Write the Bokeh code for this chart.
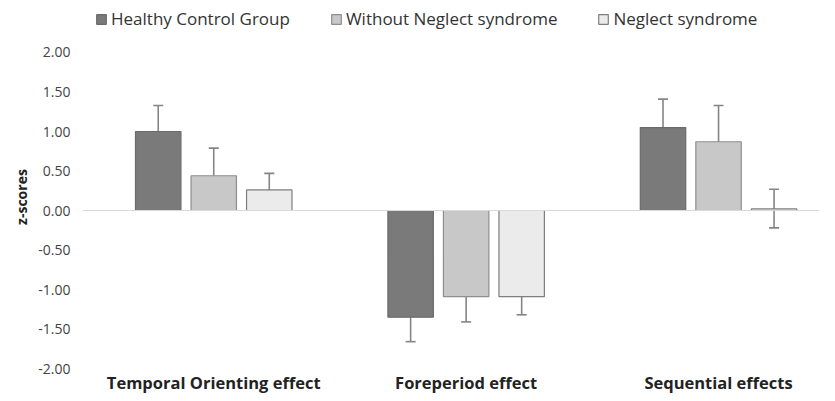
from bokeh.plotting import figure
from bokeh.models import ColumnDataSource, Whisker, TeeHead, Span, FixedTicker, PrintfTickFormatter, Legend, LegendItem
from bokeh.core.properties import value
from bokeh.embed import file_html
from bokeh.resources import INLINE

categories = ["Temporal Orienting effect", "Foreperiod effect", "Sequential effects"]
series_names = ["Healthy Control Group", "Without Neglect syndrome", "Neglect syndrome"]
healthy = [1.00, -1.35, 1.05]
healthy_lo = [0.66, -1.66, 0.70]
healthy_hi = [1.33, -1.03, 1.41]
without = [0.44, -1.09, 0.87]
without_lo = [0.08, -1.41, 0.40]
without_hi = [0.79, -0.76, 1.33]
neglect = [0.26, -1.09, 0.02]
neglect_lo = [0.06, -1.32, -0.22]
neglect_hi = [0.47, -0.85, 0.27]
y_ticks = [-2.0, -1.5, -1.0, -0.5, 0.0, 0.5, 1.0, 1.5, 2.0]

FONT = "Open Sans"
fills = ["#7a7a7a", "#c8c8c8", "#ebebeb"]
lines = ["#6a6a6a", "#8e8e8e", "#7e7e7e"]
offsets = [-0.22, 0.0, 0.22]
bar_w = 0.18
y_min = y_ticks[0]

p = figure(width=819, height=393, output_backend="svg", toolbar_location=None,
           x_range=(-0.52, 2.40), y_range=(-2.316, 2.658),
           min_border_left=82, min_border_right=0, min_border_top=0, min_border_bottom=0)
p.outline_line_color = None
p.xgrid.grid_line_color = None
p.ygrid.grid_line_color = None
p.xaxis.visible = False

p.add_layout(Span(location=0, dimension="width", line_color="#d9d9d9", line_width=1.2))

series = [(healthy, healthy_lo, healthy_hi), (without, without_lo, without_hi), (neglect, neglect_lo, neglect_hi)]
renderers = []
for i, (vals, lo, hi) in enumerate(series):
    xs = [k + offsets[i] for k in range(len(categories))]
    src = ColumnDataSource(dict(x=xs, top=vals, lo=lo, hi=hi))
    r = p.vbar(x="x", top="top", bottom=0, width=bar_w, source=src,
               fill_color=fills[i], line_color=lines[i], line_width=1.2)
    renderers.append(r)
    w = Whisker(base="x", lower="lo", upper="hi", source=src, dimension="height",
                line_color="#858585", line_width=1.6,
                upper_head=TeeHead(size=10, line_color="#858585", line_width=1.6),
                lower_head=TeeHead(size=10, line_color="#858585", line_width=1.6))
    p.add_layout(w)

# category labels
cat_src = ColumnDataSource(dict(x=list(range(len(categories))), y=[y_min] * len(categories), text=categories))
p.text(x="x", y="y", text="text", source=cat_src, text_align="center", text_baseline="middle",
       y_offset=14, text_font=value(FONT), text_font_style="bold", text_font_size="16.5px",
       text_color="#222222")

# y axis
p.yaxis.ticker = FixedTicker(ticks=y_ticks)
p.yaxis.formatter = PrintfTickFormatter(format="%.2f")
p.yaxis.axis_line_color = None
p.yaxis.major_tick_line_color = None
p.yaxis.minor_tick_line_color = None
p.yaxis.major_tick_out = 0
p.yaxis.major_tick_in = 0
p.yaxis.minor_tick_out = 0
p.yaxis.major_label_standoff = 12
p.yaxis.major_label_text_font = FONT
p.yaxis.major_label_text_font_size = "14px"
p.yaxis.major_label_text_color = "#444444"
p.yaxis.axis_label = "z-scores"
p.yaxis.axis_label_text_font = FONT
p.yaxis.axis_label_text_font_style = "bold"
p.yaxis.axis_label_text_font_size = "14px"
p.yaxis.axis_label_text_color = "#222222"
p.yaxis.axis_label_standoff = 4

legend = Legend(items=[LegendItem(label=series_names[i], renderers=[renderers[i]]) for i in range(3)],
                orientation="horizontal", location=(13, 363),
                glyph_width=12, glyph_height=12, label_standoff=4, spacing=40,
                padding=0, margin=0, border_line_color=None, background_fill_alpha=0,
                label_text_font=FONT, label_text_font_size="17px", label_text_color="#333333")
p.add_layout(legend)

open("out.html", "w").write(file_html(p, INLINE))
